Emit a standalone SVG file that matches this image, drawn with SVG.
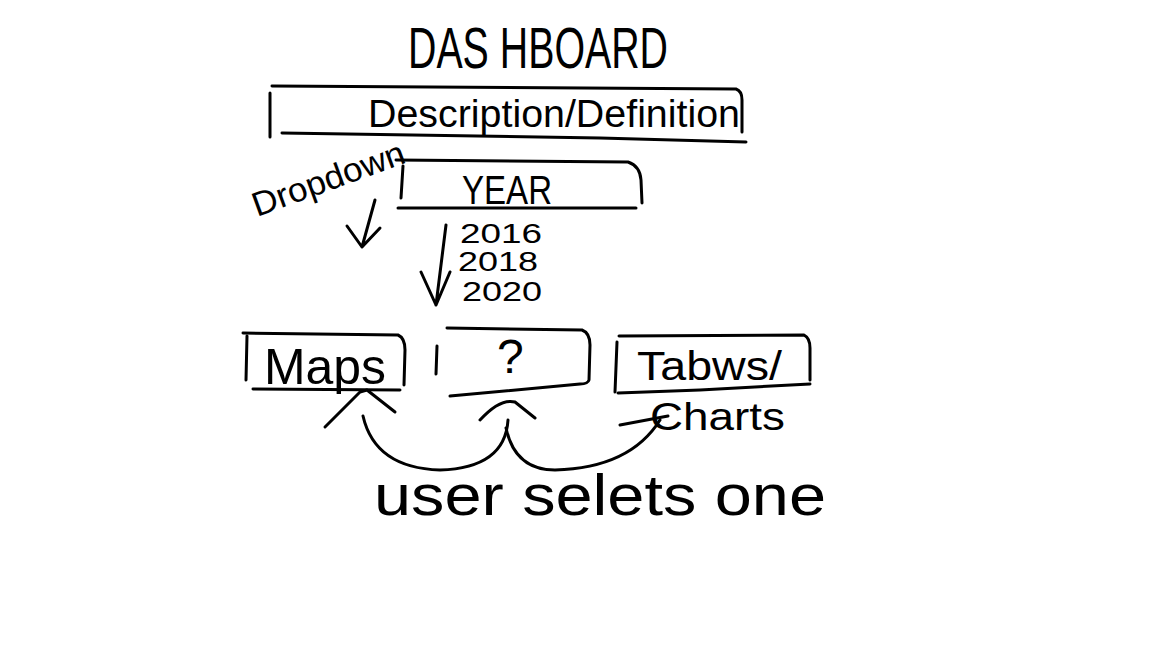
<svg xmlns="http://www.w3.org/2000/svg" width="1152" height="648" viewBox="0 0 1152 648">
<style>
.s{fill:none;stroke:#000;stroke-width:3;stroke-linecap:round;stroke-linejoin:round}
.t{font-family:"Liberation Sans",Arial,sans-serif;fill:#000}
</style>
<rect width="1152" height="648" fill="#fff"/>
<g id="title"><text class="t" x="408" y="68" font-size="58" textLength="260" lengthAdjust="spacingAndGlyphs">DAS HBOARD</text></g>
<g id="description">
<path class="s" d="M272 86 L736 89 Q742 91 742 100 L742 132"/>
<path class="s" d="M270 93 L270 137"/>
<path class="s" d="M282 133 L600 138 L746 142"/>
<text class="t" x="368" y="127" font-size="38" textLength="372" lengthAdjust="spacingAndGlyphs">Description/Definition</text>
</g>
<g id="dropdown">
<text class="t" font-size="34" transform="translate(257,217) rotate(-20)" textLength="160" lengthAdjust="spacingAndGlyphs">Dropdown</text>
</g>
<g id="year">
<path class="s" d="M396 160 L628 162 Q640 166 641 180 L642 203"/>
<path class="s" d="M403 166 L401 198"/>
<path class="s" d="M398 208 L636 208"/>
<text class="t" x="462" y="204" font-size="40" textLength="90" lengthAdjust="spacingAndGlyphs">YEAR</text>
</g>
<g id="years">
<text class="t" x="460" y="243" font-size="28" textLength="82" lengthAdjust="spacingAndGlyphs">2016</text>
<text class="t" x="458" y="271" font-size="28" textLength="80" lengthAdjust="spacingAndGlyphs">2018</text>
<text class="t" x="462" y="301" font-size="28" textLength="80" lengthAdjust="spacingAndGlyphs">2020</text>
</g>
<g id="maps">
<path class="s" d="M243 333 L398 335 Q405 338 405 350 L404 385"/>
<path class="s" d="M247 336 L246 380"/>
<path class="s" d="M253 389 L400 390"/>
<text class="t" x="264" y="384" font-size="50" textLength="122" lengthAdjust="spacingAndGlyphs">Maps</text>
</g>
<g id="unknown">
<path class="s" d="M447 328 L582 330 Q590 333 590 345 L589 380 Q588 384 580 384 L450 396"/>
<path class="s" d="M437 346 L436 374"/>
<text class="t" x="497" y="373" font-size="48">?</text>
</g>
<g id="tables">
<path class="s" d="M619 336 L804 335 Q810 338 810 348 L810 380"/>
<path class="s" d="M617 342 L615 392"/>
<path class="s" d="M618 393 L700 390 L810 384"/>
<text class="t" x="637" y="380" font-size="40" textLength="145" lengthAdjust="spacingAndGlyphs">Tabws/</text>
<text class="t" x="650" y="430" font-size="38" textLength="135" lengthAdjust="spacingAndGlyphs">Charts</text>
</g>
<g id="connectors">
<path class="s" d="M375 200 L362 247 M347 226 L362 247 L380 228"/>
<path class="s" d="M446 225 L436 305 M421 272 L436 305 L450 272"/>
<path class="s" d="M325 427 L360 392 L367 390 L395 412"/>
<path class="s" d="M363 416 Q375 468 440 470 Q505 468 508 420"/>
<path class="s" d="M480 420 Q500 398 515 402 L535 418"/>
<path class="s" d="M506 428 Q515 470 555 470 Q630 468 660 420"/>
<path class="s" d="M620 425 L668 416"/>
</g>
<g id="note"><text class="t" x="374" y="515" font-size="58" textLength="452" lengthAdjust="spacingAndGlyphs">user selets one</text></g>
</svg>
